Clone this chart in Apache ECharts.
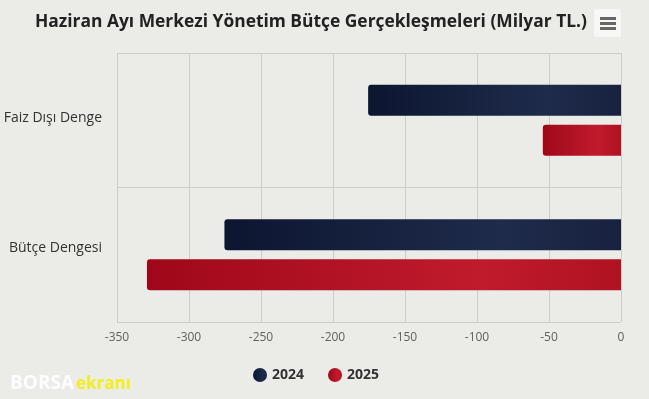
<!DOCTYPE html>
<html>
<head>
<meta charset="utf-8">
<script src="https://cdn.jsdelivr.net/npm/echarts@6/dist/echarts.min.js"></script>
<style>
  html, body { margin: 0; padding: 0; background: #ebebe8; }
  #chart { width: 649px; height: 399px; }
</style>
</head>
<body>
<div id="chart"></div>
<script>
var categories = ['Faiz Dışı Denge', 'Bütçe Dengesi'];
var seriesNames = ['2024', '2025'];
var values2024 = [-175.6, -275.4];
var values2025 = [-54.3, -329.2];
var xTicks = { min: -350, max: 0, step: 50 };

var navy = '#16203d', red = '#b5122a';

function grad(c1, c2, c3) {
	return new echarts.graphic.LinearGradient(0, 0, 1, 0, [
		{ offset: 0, color: c1 },
		{ offset: 0.7, color: c2 },
		{ offset: 1, color: c3 }
	]);
}

var chart = echarts.init(document.getElementById('chart'));
var option = {
	backgroundColor: '#ebebe8',
	animation: false,
	textStyle: { fontFamily: 'Open Sans' },
	title: {
		text: 'Haziran Ayı Merkezi Yönetim Bütçe Gerçekleşmeleri (Milyar TL.)',
		left: 30, top: 9,
		textStyle: { fontFamily: 'Open Sans', fontSize: 17.4, fontWeight: 'bold', color: '#222' }
	},
	legend: {
		top: 363, left: 248,
		icon: 'circle', itemWidth: 14, itemHeight: 14, itemGap: 24,
		textStyle: { fontFamily: 'Open Sans', fontSize: 14, fontWeight: 'bold', color: '#333' },
		data: seriesNames
	},
	grid: { left: 117, right: 28, top: 53, bottom: 77 },
	xAxis: {
		type: 'value',
		min: xTicks.min, max: xTicks.max, interval: xTicks.step,
		axisLine: { show: false },
		axisTick: { show: false },
		axisLabel: { color: '#606060', fontSize: 12, margin: 10 },
		splitLine: { lineStyle: { color: '#cccccc' } }
	},
	yAxis: {
		type: 'category',
		inverse: true,
		data: categories,
		axisLine: { show: false, onZero: false },
		axisTick: { show: false },
		axisLabel: {
			color: '#333', fontSize: 14, margin: 15,
			formatter: function (v, i) { return '{l' + i + '|' + v + '}'; },
			rich: {
				l0: { fontSize: 14, color: '#333', padding: [0, 0, 5, 0] },
				l1: { fontSize: 14, color: '#333', padding: [0, 0, 13, 0] }
			}
		},
		splitLine: { show: true, lineStyle: { color: '#cccccc' } }
	},
	series: [
		{
			name: seriesNames[0], type: 'bar', data: values2024,
			barWidth: 31, barGap: '29%',
			itemStyle: { color: grad('#0c1631', '#1f2b4b', '#18223f'), borderRadius: [3, 0, 0, 3] }
		},
		{
			name: seriesNames[1], type: 'bar', data: values2025,
			barWidth: 31,
			itemStyle: { color: grad('#9f0819', '#c01b2d', '#b01222'), borderRadius: [3, 0, 0, 3] }
		}
	],
	color: [navy, red],
	graphic: [
		{ type: 'rect', left: 594, top: 9, shape: { width: 27, height: 28, r: 2 }, style: { fill: '#f7f7f5' } },
		{ type: 'rect', left: 600, top: 17, shape: { width: 16, height: 3 }, style: { fill: '#666' } },
		{ type: 'rect', left: 600, top: 22, shape: { width: 16, height: 3 }, style: { fill: '#666' } },
		{ type: 'rect', left: 600, top: 27, shape: { width: 16, height: 3 }, style: { fill: '#666' } },
		{ type: 'text', left: 10, top: 374, style: { text: 'BORSA', fill: 'rgba(255,255,255,0.9)', font: 'bold 19px "Open Sans"' } },
		{ type: 'text', left: 76, top: 376, style: { text: 'ekranı', fill: '#f2ef1e', font: 'bold 17px "Open Sans"' } }
	]
};
chart.setOption(option);
</script>
</body>
</html>
